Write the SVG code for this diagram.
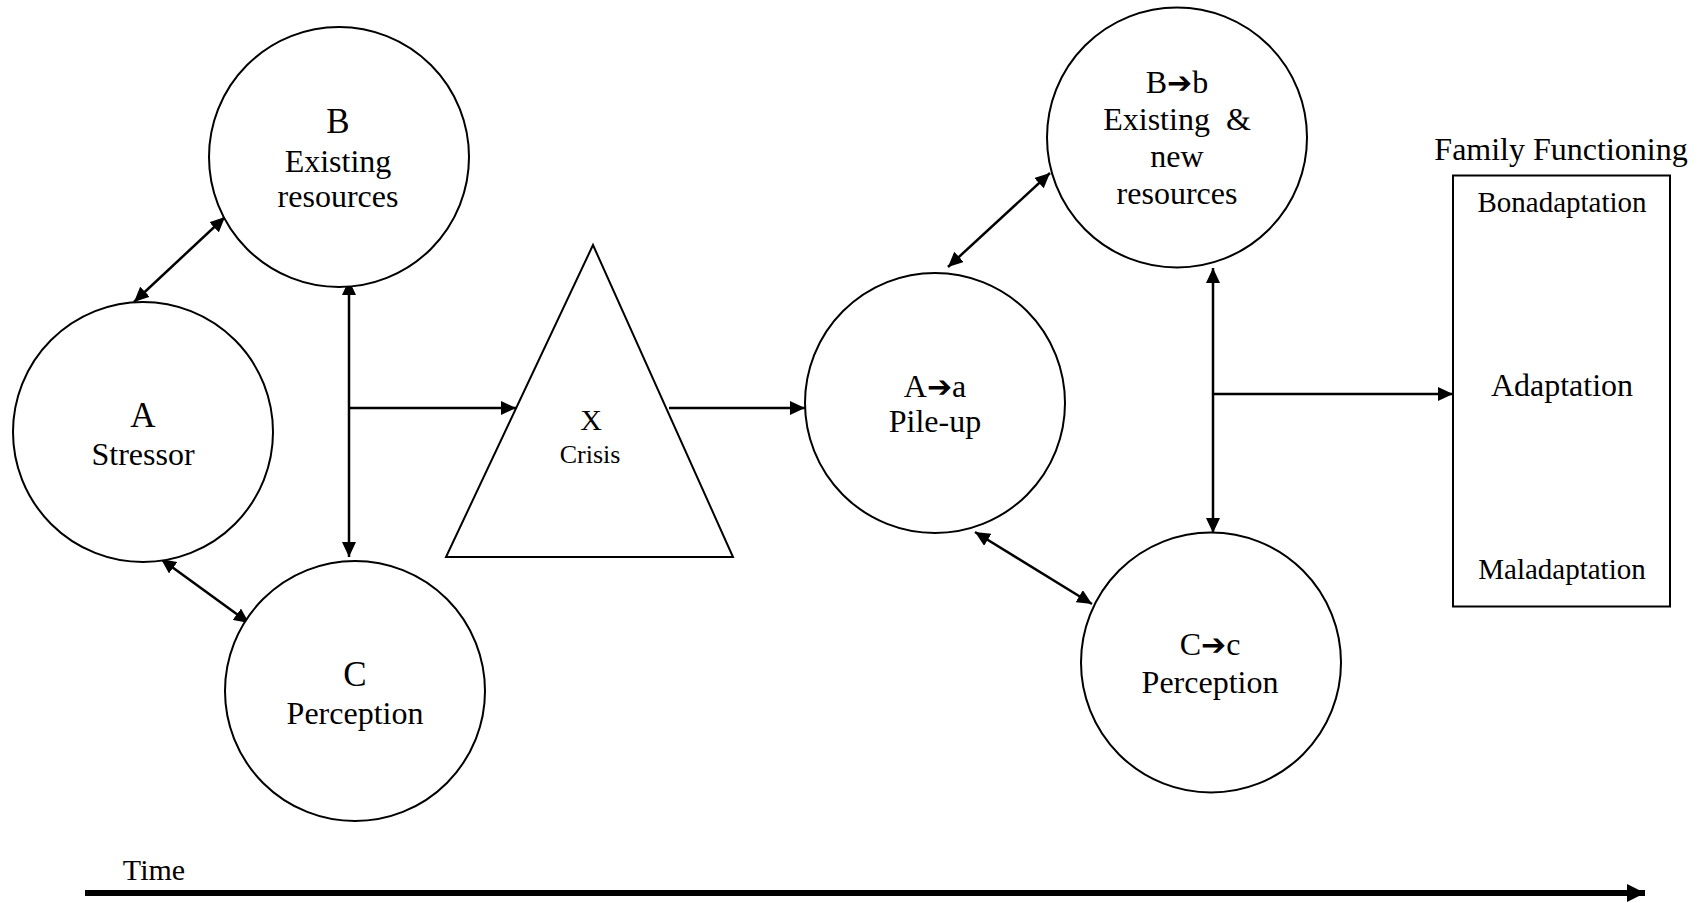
<svg xmlns="http://www.w3.org/2000/svg" width="1701" height="903" viewBox="0 0 1701 903">
<style>
.shape{fill:#fff;stroke:#000;stroke-width:2}
.t{font-family:"Liberation Serif","Times New Roman",serif;fill:#000;text-anchor:middle}
.big{font-size:35px}
.mid{font-size:32px}
.sm{font-size:29px}
.arr{font-family:"DejaVu Sans",sans-serif;font-size:30px}
.con{stroke:#000;stroke-width:2.5;fill:none}
</style>
<defs>
<marker id="ah" viewBox="0 0 15 14" refX="15" refY="7" markerWidth="15" markerHeight="14" markerUnits="userSpaceOnUse" orient="auto-start-reverse">
<path d="M0,0 L15,7 L0,14 z" fill="#000"/>
</marker>
<marker id="ahT" viewBox="0 0 18 18" refX="18" refY="9" markerWidth="18" markerHeight="18" markerUnits="userSpaceOnUse" orient="auto">
<path d="M0,0 L18,9 L0,18 z" fill="#000"/>
</marker>
</defs>
<rect width="1701" height="903" fill="#fff"/>

<g id="connectors">
<line class="con" x1="134" y1="302" x2="225" y2="217" marker-start="url(#ah)" marker-end="url(#ah)"/>
<line class="con" x1="161" y1="559" x2="249" y2="623" marker-start="url(#ah)" marker-end="url(#ah)"/>
<line class="con" x1="349" y1="280" x2="349" y2="557" marker-start="url(#ah)" marker-end="url(#ah)"/>
<line class="con" x1="349" y1="408" x2="516" y2="408" marker-end="url(#ah)"/>
<line class="con" x1="669" y1="408" x2="805" y2="408" marker-end="url(#ah)"/>
<line class="con" x1="948" y1="267" x2="1050" y2="173" marker-start="url(#ah)" marker-end="url(#ah)"/>
<line class="con" x1="975" y1="532" x2="1092" y2="604" marker-start="url(#ah)" marker-end="url(#ah)"/>
<line class="con" x1="1213" y1="268" x2="1213" y2="533" marker-start="url(#ah)" marker-end="url(#ah)"/>
<line class="con" x1="1213" y1="394" x2="1453" y2="394" marker-end="url(#ah)"/>
<line class="con" x1="1571" y1="360" x2="1571" y2="240" marker-end="url(#ah)"/>
<line class="con" x1="1571" y1="412" x2="1571" y2="531" marker-end="url(#ah)"/>
<line x1="85" y1="893" x2="1645" y2="893" stroke="#000" stroke-width="6" marker-end="url(#ahT)"/>
</g>

<g id="nodeA">
<circle class="shape" cx="143" cy="432" r="130"/>
<text class="t big" x="143" y="427">A</text>
<text class="t mid" x="143" y="465">Stressor</text>
</g>
<g id="nodeB">
<circle class="shape" cx="339" cy="157" r="130"/>
<text class="t big" x="338" y="133">B</text>
<text class="t mid" x="338" y="172">Existing</text>
<text class="t mid" x="338" y="207">resources</text>
</g>
<g id="nodeC">
<circle class="shape" cx="355" cy="691" r="130"/>
<text class="t big" x="355" y="686">C</text>
<text class="t mid" x="355" y="724">Perception</text>
</g>
<g id="nodeX">
<polygon class="shape" points="593,245 733,557 446,557"/>
<text class="t" x="591" y="430" font-size="30">X</text>
<text class="t" x="590" y="463" font-size="26">Crisis</text>
</g>
<g id="nodeAa">
<circle class="shape" cx="935" cy="403" r="130"/>
<text class="t mid" x="935" y="397">A<tspan class="arr">➔</tspan>a</text>
<text class="t mid" x="935" y="432">Pile-up</text>
</g>
<g id="nodeBb">
<circle class="shape" cx="1177" cy="137.5" r="130"/>
<text class="t mid" x="1177" y="93">B<tspan class="arr">➔</tspan>b</text>
<text class="t mid" x="1177" y="130" xml:space="preserve">Existing  &amp;</text>
<text class="t mid" x="1177" y="167">new</text>
<text class="t mid" x="1177" y="204">resources</text>
</g>
<g id="nodeCc">
<circle class="shape" cx="1211" cy="662.5" r="130"/>
<text class="t mid" x="1210" y="655">C<tspan class="arr">➔</tspan>c</text>
<text class="t mid" x="1210" y="693">Perception</text>
</g>
<g id="nodeFF">
<text class="t mid" x="1561" y="160">Family Functioning</text>
<rect class="shape" x="1453" y="175.5" width="217" height="431"/>
<text class="t sm" x="1562" y="212">Bonadaptation</text>
<text class="t mid" x="1562" y="396">Adaptation</text>
<text class="t sm" x="1562" y="579">Maladaptation</text>
</g>
<g id="time">
<text class="t" x="154" y="880" font-size="30">Time</text>
</g>
</svg>
